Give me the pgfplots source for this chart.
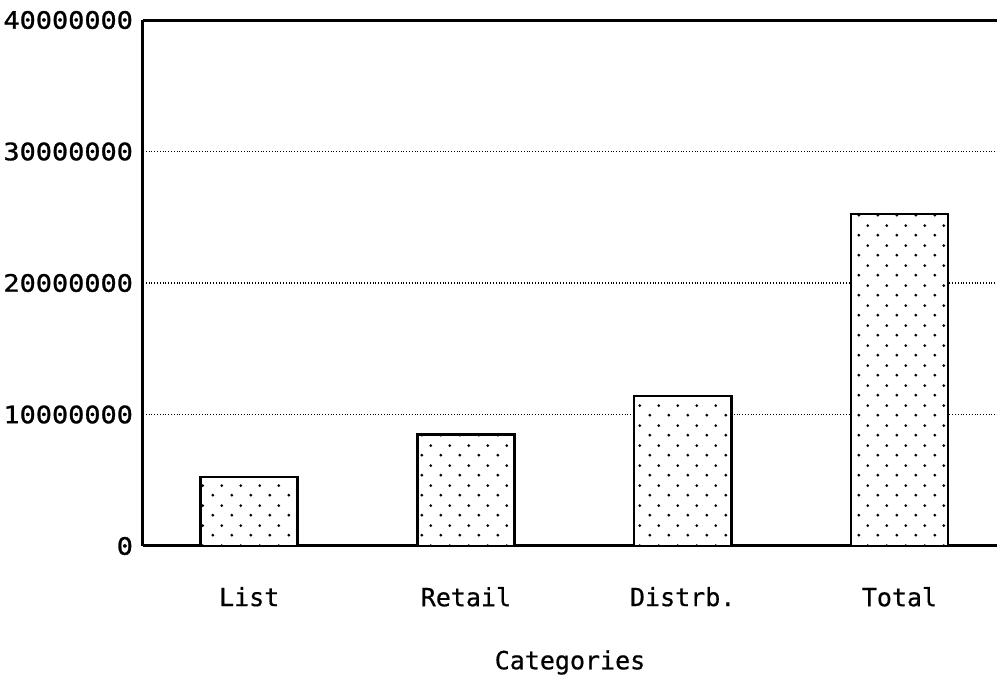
\documentclass[border=0pt]{standalone}
\usepackage{pgfplots}
\pgfplotsset{compat=1.18}
\usepackage{fontspec}
\setmainfont{DejaVu Sans Mono}
\newfontfamily\tickfont[FakeStretch=1.12,FakeBold=1.2]{DejaVu Sans Mono}
\newfontfamily\catfont[FakeBold=0.6]{DejaVu Sans Mono}
\usetikzlibrary{patterns}
\pgfdeclarepatternformonly{mydots}{\pgfpointorigin}{\pgfqpoint{9.5pt}{10pt}}{\pgfqpoint{9.5pt}{10pt}}{%
  \pgfpathcircle{\pgfqpoint{2pt}{2pt}}{0.8pt}%
  \pgfpathcircle{\pgfqpoint{6.75pt}{7pt}}{0.8pt}%
  \pgfusepath{fill}}
\begin{document}
\begin{tikzpicture}
\begin{axis}[
  scale only axis,
  width=427pt, height=263pt,
  xmin=-0.49, xmax=3.45,
  ymin=0, ymax=40000000,
  axis x line*=box,
  axis y line*=left,
  axis line style={line width=1.5pt},
  xtick={0,1,2,3},
  xticklabels={List,Retail,Distrb.,Total},
  ytick={0,10000000,20000000,30000000,40000000},
  scaled y ticks=false,
  yticklabel style={/pgf/number format/fixed, /pgf/number format/1000 sep={}, /pgf/number format/assume math mode=true, font=\tickfont\fontsize{12}{13}\selectfont, xshift=-1.5pt},
  xticklabel style={font=\catfont\fontsize{12.5}{14}\selectfont, yshift=-17pt},
  major tick length=0pt,
  ymajorgrids,
  grid style={densely dotted, line width=0.7pt, black},
  xlabel={Categories},
  xlabel style={font=\catfont\fontsize{12.5}{14}\selectfont, yshift=-15pt},
]
\addplot[ybar, bar width=0.448, draw=black, line width=1.3pt, fill=white, postaction={pattern=mydots, pattern color=black}]
  coordinates {(0,5250000) (1,8500000) (2,11400000) (3,25250000)};
\end{axis}
\pgfresetboundingbox
\useasboundingbox ([xshift=-71.5pt,yshift=-66.5pt]current axis.south west) rectangle ([yshift=10pt]current axis.north east);
\end{tikzpicture}
\end{document}
